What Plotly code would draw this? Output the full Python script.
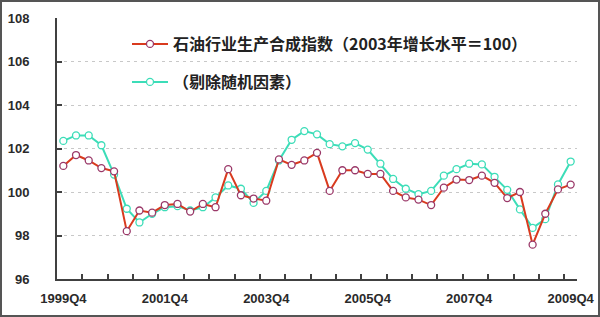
import plotly.graph_objects as go

categories = [
    "1999Q4",
    "2000Q1", "2000Q2", "2000Q3", "2000Q4",
    "2001Q1", "2001Q2", "2001Q3", "2001Q4",
    "2002Q1", "2002Q2", "2002Q3", "2002Q4",
    "2003Q1", "2003Q2", "2003Q3", "2003Q4",
    "2004Q1", "2004Q2", "2004Q3", "2004Q4",
    "2005Q1", "2005Q2", "2005Q3", "2005Q4",
    "2006Q1", "2006Q2", "2006Q3", "2006Q4",
    "2007Q1", "2007Q2", "2007Q3", "2007Q4",
    "2008Q1", "2008Q2", "2008Q3", "2008Q4",
    "2009Q1", "2009Q2", "2009Q3", "2009Q4",
]

index_raw = [
    101.2, 101.7, 101.45, 101.1, 100.95, 98.2, 99.15, 99.05, 99.4,
    99.45, 99.1, 99.45, 99.3, 101.05, 99.85, 99.7, 99.6, 101.5,
    101.25, 101.45, 101.8, 100.05, 101.0, 101.0, 100.83, 100.83,
    100.05, 99.75, 99.65, 99.4, 100.2, 100.57, 100.55, 100.75,
    100.42, 99.72, 100.0, 97.58, 99.0, 100.12, 100.34,
]

index_adj = [
    102.35, 102.6, 102.6, 102.15, 100.8, 99.23, 98.6, 99.0, 99.3,
    99.35, 99.15, 99.3, 99.75, 100.3, 100.15, 99.5, 100.05, 101.45,
    102.4, 102.8, 102.65, 102.2, 102.1, 102.25, 101.95, 101.3,
    100.6, 100.15, 99.9, 100.05, 100.75, 101.05, 101.3, 101.27,
    100.7, 100.1, 99.2, 98.35, 98.75, 100.35, 101.4,
]

tick_labels = ["1999Q4", "2001Q4", "2003Q4", "2005Q4", "2007Q4", "2009Q4"]

name_raw = "石油行业生产合成指数（2003年增长水平＝100）"
name_adj = "（剔除随机因素）"

W, H = 600, 317
ML, MR, MT, MB = 57, 23, 18, 38
PW, PH = W - ML - MR, H - MT - MB

x = list(range(len(categories)))

fig = go.Figure()
fig.add_trace(go.Scatter(
    x=x, y=index_adj, name=name_adj, text=categories,
    mode="lines+markers",
    line=dict(color="#3CDDB8", width=2),
    marker=dict(symbol="circle", size=7, color="white",
                line=dict(color="#3CDDB8", width=1.3)),
    legend="legend2",
    hovertemplate="%{text}: %{y}<extra></extra>",
))
fig.add_trace(go.Scatter(
    x=x, y=index_raw, name=name_raw, text=categories,
    mode="lines+markers",
    line=dict(color="#D93A1E", width=2),
    marker=dict(symbol="circle", size=7, color="white",
                line=dict(color="#9A3868", width=1.3)),
    legend="legend",
    hovertemplate="%{text}: %{y}<extra></extra>",
))

def px_x(p):
    return (p - ML) / PW

def px_y(p):
    return 1 - (p - MT) / PH

legend_font = dict(family="Noto Sans CJK SC", size=16, color="#222222",
                   weight=600)
tick_font = dict(family="Liberation Sans", size=13, color="#2a2a2a",
                 weight=600)

fig.update_layout(
    width=W, height=H,
    margin=dict(l=ML, r=MR, t=MT, b=MB, pad=0, autoexpand=False),
    paper_bgcolor="white", plot_bgcolor="white",
    showlegend=True,
    legend=dict(x=px_x(127), y=px_y(27), xanchor="left", yanchor="top",
                bgcolor="rgba(0,0,0,0)", font=legend_font, itemwidth=36,
                borderwidth=0),
    legend2=dict(x=px_x(127), y=px_y(65), xanchor="left", yanchor="top",
                 bgcolor="rgba(0,0,0,0)", font=legend_font, itemwidth=36,
                 borderwidth=0),
    xaxis=dict(
        automargin=False,
        range=[-0.5, len(categories) - 0.5],
        tickmode="array",
        tickvals=[categories.index(t) for t in tick_labels],
        ticktext=tick_labels,
        ticks="", ticklen=0,
        minor=dict(tickmode="array",
                   tickvals=[i - 0.5 for i in range(2, len(categories), 2)],
                   ticks="inside", ticklen=5, tickwidth=2, tickcolor="#404040",
                   showgrid=False),
        showgrid=False, zeroline=False,
        showline=True, linecolor="#404040", linewidth=2,
        tickfont=tick_font,
        ticklabelstandoff=6,
    ),
    yaxis=dict(
        automargin=False,
        range=[96, 108], dtick=2, tick0=96,
        ticks="inside", ticklen=5, tickwidth=2, tickcolor="#404040",
        showgrid=True, gridcolor="#C8C8C8", gridwidth=1, griddash="3px,4px",
        zeroline=False,
        showline=True, linecolor="#404040", linewidth=2,
        tickfont=tick_font,
        ticklabelstandoff=23,
    ),
    shapes=[dict(type="rect", xref="paper", yref="paper",
                 x0=-(ML - 1) / PW, x1=1 + (MR - 1) / PW,
                 y0=-(MB - 1) / PH, y1=1 + (MT - 1) / PH,
                 line=dict(color="#555555", width=2), layer="above")],
)

fig.write_html("out.html")
